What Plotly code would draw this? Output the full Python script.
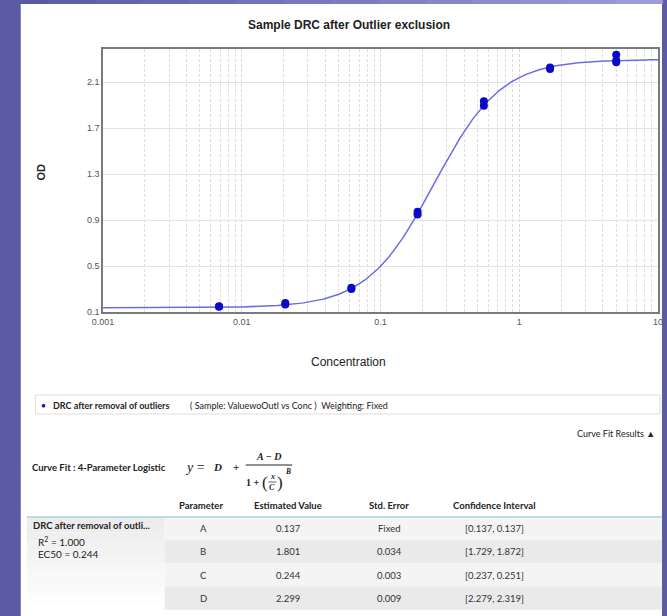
import numpy as np
import plotly.graph_objects as go

# ---------------- data ----------------
conc_points = [0.00686, 0.00686, 0.0206, 0.0206, 0.0617, 0.0617, 0.185, 0.185,
               0.556, 0.556, 1.667, 1.667, 5.0, 5.0, 5.0]
od_points = [0.145, 0.150, 0.165, 0.178, 0.300, 0.312, 0.950, 0.972,
             1.895, 1.935, 2.215, 2.228, 2.340, 2.290, 2.275]

param_names = ["A", "B", "C", "D"]
est_values = [0.137, 1.801, 0.244, 2.299]
std_errors = ["Fixed", "0.034", "0.003", "0.009"]
conf_intervals = ["[0.137, 0.137]", "[1.729, 1.872]", "[0.237, 0.251]", "[2.279, 2.319]"]
r_squared = "1.000"
ec50 = "0.244"

x_tickvals = [0.001, 0.01, 0.1, 1, 10]
x_ticktext = ["0.001", "0.01", "0.1", "1", "10"]
y_tickvals = [0.1, 0.5, 0.9, 1.3, 1.7, 2.1]
y_ticktext = ["0.1", "0.5", "0.9", "1.3", "1.7", "2.1"]

# fitted 4PL curve from the estimated parameters
A, Bp, C, D = est_values
curve_x = np.logspace(-3, 1, 300)
curve_y = D + (A - D) / (1 + (curve_x / C) ** Bp)

# ---------------- geometry helpers ----------------
W, H = 667, 616
L, R, T, Bt = 103, 663, 49, 312


def px(x):
    return (x - L) / (R - L)


def py(y):
    return (Bt - y) / (Bt - T)


SANS = "Liberation Sans, Arial, sans-serif"
CAL = "Lato, Open Sans, sans-serif"
SERIF = "Liberation Serif, DejaVu Serif, serif"

fig = go.Figure()
fig.add_trace(go.Scatter(x=curve_x, y=curve_y, mode="lines",
                         line=dict(color="#6b6be6", width=1.5),
                         hoverinfo="skip", showlegend=False))
fig.add_trace(go.Scatter(x=conc_points, y=od_points, mode="markers",
                         marker=dict(color="#0a0ac8", size=8),
                         showlegend=False))

minor_vals = []
for e in range(-3, 1):
    for m in range(2, 10):
        minor_vals.append(m * 10 ** e)

shapes = []
# purple top strip (gradient approximated with segments)
c0 = np.array([0x5a, 0x5a, 0xa5])
c1 = np.array([0x9c, 0x9c, 0xd4])
nseg = 14
for i in range(nseg):
    t = i / (nseg - 1)
    col = c0 + (c1 - c0) * t
    shapes.append(dict(type="rect", xref="paper", yref="paper", layer="below",
                       x0=px(i * W / nseg), x1=px((i + 1) * W / nseg + 1),
                       y0=py(0), y1=py(4), line=dict(width=0),
                       fillcolor="rgb(%d,%d,%d)" % tuple(col)))
# white panel
shapes.append(dict(type="rect", xref="paper", yref="paper", layer="below",
                   x0=px(20), x1=px(667), y0=py(4), y1=py(616),
                   line=dict(width=0), fillcolor="white"))
# legend box
shapes.append(dict(type="rect", xref="paper", yref="paper", layer="below",
                   x0=px(35), x1=px(665), y0=py(395), y1=py(414),
                   line=dict(color="#dedede", width=1), fillcolor="white"))
# table row bands
row_top = 517
row_h = 23.2
for i in range(4):
    shapes.append(dict(type="rect", xref="paper", yref="paper", layer="below",
                       x0=px(165), x1=px(667),
                       y0=py(row_top + i * row_h), y1=py(row_top + (i + 1) * row_h),
                       line=dict(width=0),
                       fillcolor="#f4f4f4" if i % 2 == 0 else "#eaeaea"))
# left cell gradient
ng = 12
for i in range(ng):
    t = i / (ng - 1)
    g = int(0xec + (0xff - 0xec) * t)
    shapes.append(dict(type="rect", xref="paper", yref="paper", layer="below",
                       x0=px(26), x1=px(165),
                       y0=py(row_top + i * 4 * row_h / ng),
                       y1=py(row_top + (i + 1) * 4 * row_h / ng),
                       line=dict(width=0), fillcolor="rgb(%d,%d,%d)" % (g, g, g)))
# header line
shapes.append(dict(type="line", xref="paper", yref="paper",
                   x0=px(26), x1=px(667), y0=py(517), y1=py(517),
                   line=dict(color="#a9d3e6", width=1.5)))
# fraction bar
shapes.append(dict(type="line", xref="paper", yref="paper",
                   x0=px(247), x1=px(294), y0=py(465), y1=py(465),
                   line=dict(color="#222", width=1)))
shapes.append(dict(type="line", xref="paper", yref="paper",
                   x0=px(270), x1=px(278), y0=py(482), y1=py(482),
                   line=dict(color="#222", width=0.7)))

ann = []


def text(x, y, s, size=10, color="#222", family=CAL, xanchor="left", yanchor="middle"):
    ann.append(dict(x=px(x), y=py(y), xref="paper", yref="paper", text=s,
                    showarrow=False, xanchor=xanchor, yanchor=yanchor,
                    font=dict(size=size, color=color, family=family)))


# chart titles
text(351, 25, "<b>Sample DRC after Outlier exclusion</b>", 12, "#222", SANS, "center")
text(351, 362, "Concentration", 12, "#222", SANS, "center")
ann.append(dict(x=px(40), y=py(172), xref="paper", yref="paper", text="<b>OD</b>",
                showarrow=False, textangle=-90, xanchor="center", yanchor="middle",
                font=dict(size=11, color="#222", family=SANS)))

# legend
text(43, 405, "●", 8, "#0a0ac8", SANS, "center")
text(51, 405, "<b>DRC after removal of outliers</b>", 9, "#222")
text(189, 405, "( Sample: ValuewoOutl vs Conc )  Weighting: Fixed", 9, "#222")

text(662, 433, "Curve Fit Results ▲", 9, "#222", CAL, "right")

# formula
text(29, 467, "<b>Curve Fit : 4-Parameter Logistic</b>", 9.5, "#222")
text(184, 467, "<i>y</i> =", 14, "#222", SERIF)
text(219, 467, "<b><i>D</i></b>", 11, "#222", SERIF, "center")
text(237, 467, "<b>+</b>", 11, "#222", SERIF, "center")
text(270, 456, "<b><i>A − D</i></b>", 10, "#222", SERIF, "center")
text(254, 482, "<b>1 +</b>", 10, "#222", SERIF, "center")
text(266.5, 482, "(", 17, "#222", SERIF, "center")
text(274, 476.5, "<b><i>x</i></b>", 8, "#222", SERIF, "center")
text(274, 487.5, "<b><i>C</i></b>", 8, "#222", SERIF, "center")
text(282, 482, ")", 17, "#222", SERIF, "center")
text(289.5, 471, "<b><i>B</i></b>", 7.5, "#222", SERIF, "center")

# table header
col_x = [202, 290, 392, 498]
headers = ["Parameter", "Estimated Value", "Std. Error", "Confidence Interval"]
for cx, h in zip(col_x, headers):
    text(cx, 506, "<b>%s</b>" % h, 9.5, "#222", CAL, "center")

for i in range(4):
    yc = row_top + (i + 0.5) * row_h
    text(204, yc, param_names[i], 9.5, "#333", CAL, "center")
    text(290, yc, "%.3f" % est_values[i], 9.5, "#333", CAL, "center")
    text(392, yc, std_errors[i], 9.5, "#333", CAL, "center")
    text(498, yc, conf_intervals[i], 9.5, "#333", CAL, "center")

text(30, 525, "<b>DRC after removal of outli...</b>", 9.5, "#222")
text(35, 541, "R<sup>2</sup> = %s" % r_squared, 10, "#222")
text(35, 554, "EC50 = %s" % ec50, 10, "#222")

fig.update_layout(
    width=W, height=H, autosize=False,
    margin=dict(l=L, r=W - R, t=T, b=H - Bt),
    paper_bgcolor="#5a5aa5", plot_bgcolor="white",
    shapes=shapes, annotations=ann, showlegend=False,
    xaxis=dict(type="log", range=[-3, 1], tickvals=x_tickvals, ticktext=x_ticktext,
               showgrid=True, gridcolor="#d6d6d6", griddash="3px,2px", gridwidth=1,
               minor=dict(tickvals=minor_vals, showgrid=True, gridcolor="#dedede",
                          griddash="3px,2px", gridwidth=1, ticks=""),
               showline=True, linecolor="#7a7a7a", linewidth=1.5, mirror=True,
               ticks="", tickfont=dict(size=9, color="#555", family=SANS),
               zeroline=False, fixedrange=True),
    yaxis=dict(range=[0.1, 2.39], tickvals=y_tickvals, ticktext=y_ticktext,
               showgrid=True, gridcolor="#e4e4e4", gridwidth=1,
               showline=True, linecolor="#7a7a7a", linewidth=1.5, mirror=True,
               ticks="", tickfont=dict(size=9, color="#555", family=SANS),
               zeroline=False, fixedrange=True),
)

fig.write_html("out.html",
               config={"displayModeBar": False},
               post_script="document.body.style.margin='0';"
                           "document.body.style.overflow='hidden';")
